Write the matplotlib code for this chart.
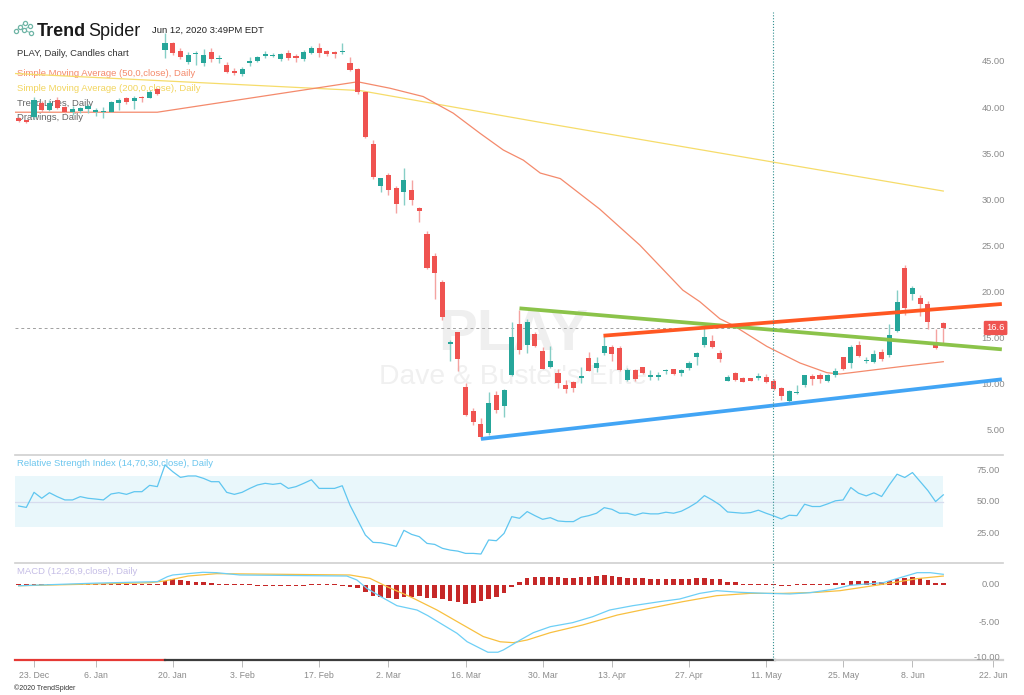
import numpy as np
import matplotlib
matplotlib.use('Agg')
import matplotlib.pyplot as plt
import matplotlib.transforms as mtransforms

plt.rcParams['font.family'] = ['Liberation Sans', 'DejaVu Sans']

### data (x = trading day, 0 = 23 Dec 2019)
day = np.arange(-2, 119)

opens = [39.33, 39.15, 39.52, 40.96, 40.24, 41.32, 40.53, 40.06, 40.13, 40.31,
         40.0, 39.97, 40.06, 40.96, 41.58, 41.2, 41.7, 41.58, 42.48, 46.75,
         47.47, 46.67, 45.48, 46.3, 45.37, 46.56, 45.74, 45.12, 44.5, 44.15,
         45.3, 45.6, 46.1, 46.1, 45.74, 46.45, 46.1, 45.74, 46.39, 46.93,
         46.67, 46.5, 46.5, 45.3, 44.7, 42.22, 36.51, 32.0, 33.2, 31.8,
         31.38, 31.6, 29.6, 26.8, 24.4, 21.6, 14.9, 16.19, 10.16, 7.6,
         6.2, 5.24, 9.3, 8.13, 11.5, 17.0, 14.75, 15.95, 14.1, 12.4,
         11.75, 10.45, 10.7, 11.17, 13.3, 12.3, 13.85, 14.57, 14.4, 10.96,
         12.04, 12.33, 11.25, 11.3, 11.9, 12.1, 11.68, 12.22, 13.49, 14.75,
         15.22, 13.84, 10.88, 11.67, 11.13, 11.13, 11.13, 11.31, 10.88, 10.12,
         8.67, 9.5, 10.41, 11.38, 11.49, 10.88, 11.49, 13.41, 12.83, 14.75,
         13.0, 12.94, 14.02, 13.66, 16.3, 23.06, 20.28, 19.81, 19.16, 14.93,
         17.1]
highs = [39.5, 39.2, 41.7, 41.2, 41.3, 41.7, 40.7, 40.67, 40.6, 40.9,
         40.5, 40.6, 41.2, 41.5, 41.7, 41.75, 41.75, 42.4, 42.6, 48.55,
         47.6, 47.0, 46.5, 46.6, 46.9, 47.0, 46.2, 45.5, 44.8, 44.9,
         46.0, 46.1, 46.6, 46.4, 46.4, 46.7, 46.3, 46.7, 47.2, 47.5,
         46.8, 46.65, 47.5, 46.0, 44.8, 42.3, 37.0, 32.9, 33.4, 32.0,
         34.0, 32.6, 29.7, 27.1, 24.7, 21.8, 15.3, 16.2, 10.6, 7.9,
         6.8, 9.7, 9.8, 9.95, 17.2, 18.6, 17.6, 16.2, 14.5, 14.6,
         12.2, 11.0, 10.8, 12.4, 13.95, 13.5, 15.7, 14.8, 14.6, 12.3,
         12.2, 12.4, 12.0, 11.8, 12.1, 12.2, 12.2, 13.0, 14.0, 16.6,
         15.8, 14.2, 11.5, 11.8, 11.3, 11.2, 11.7, 11.6, 11.1, 10.2,
         9.9, 10.4, 11.5, 11.6, 11.7, 11.6, 12.3, 13.5, 14.8, 15.2,
         13.4, 14.2, 14.3, 17.0, 20.7, 23.4, 21.1, 20.2, 19.5, 16.5,
         17.2]
lows = [38.9, 38.85, 39.3, 40.0, 40.1, 40.3, 39.9, 39.7, 39.9, 39.9,
        39.6, 39.4, 40.0, 40.2, 40.9, 40.4, 41.15, 41.5, 41.9, 45.84,
        46.2, 45.8, 45.2, 45.1, 45.0, 45.5, 45.3, 44.3, 44.0, 43.9,
        45.0, 45.4, 45.9, 46.0, 45.6, 45.7, 45.5, 45.6, 46.3, 46.0,
        46.1, 45.9, 46.3, 44.5, 42.0, 37.2, 32.8, 31.4, 31.0, 29.1,
        29.9, 29.9, 28.1, 23.0, 19.7, 17.5, 13.05, 11.9, 7.1, 6.1,
        4.6, 5.0, 7.4, 6.9, 11.4, 13.8, 13.9, 14.5, 12.1, 12.3,
        10.1, 9.5, 9.7, 10.6, 11.9, 11.8, 13.7, 13.0, 11.9, 10.8,
        10.9, 11.6, 11.0, 11.0, 11.6, 11.5, 11.4, 12.0, 12.6, 14.5,
        14.4, 12.9, 10.8, 10.9, 10.7, 10.85, 11.0, 10.6, 9.9, 8.8,
        8.4, 9.4, 10.2, 10.4, 10.6, 10.7, 11.3, 12.0, 12.3, 13.4,
        12.8, 12.8, 13.0, 13.5, 16.2, 18.0, 19.6, 17.9, 16.5, 14.3,
        15.0]
closes = [39.04, 38.9, 41.32, 40.24, 40.96, 40.42, 40.06, 40.31, 40.42, 40.67,
          40.2, 40.13, 41.14, 41.32, 41.14, 41.5, 41.5, 42.19, 41.97, 47.47,
          46.39, 45.95, 46.2, 46.45, 46.2, 45.74, 45.85, 44.4, 44.3, 44.65,
          45.6, 45.95, 46.3, 46.2, 46.28, 45.84, 45.84, 46.56, 47.0, 46.39,
          46.28, 46.28, 46.6, 44.6, 42.22, 37.34, 33.0, 32.9, 31.6, 30.04,
          32.7, 30.5, 29.3, 23.1, 22.6, 17.75, 15.05, 13.2, 7.16, 6.43,
          4.8, 8.5, 7.7, 9.87, 15.58, 14.2, 17.3, 14.65, 12.2, 13.0,
          10.67, 9.95, 10.05, 11.43, 11.97, 12.84, 14.65, 13.78, 12.0, 12.04,
          11.03, 11.75, 11.5, 11.5, 12.05, 11.57, 12.04, 12.84, 13.85, 15.58,
          14.5, 13.19, 11.24, 10.95, 10.77, 10.88, 11.42, 10.7, 10.01, 9.22,
          9.76, 9.7, 11.49, 11.1, 11.02, 11.49, 11.96, 12.11, 14.57, 13.55,
          13.15, 13.77, 13.19, 15.83, 19.45, 18.72, 20.89, 19.19, 17.28, 14.46,
          16.6]

sma50_day = [-2.5, 16, 42, 46.2, 50.5, 54.4, 57.9, 60.9, 63.5, 65.7, 68.3, 73.4,
             78.6, 84.2, 86.4, 89, 90.7, 95.1, 99.4, 102.9, 104.6, 108.1, 112.4, 118]
sma50_val = [40.0, 40.0, 43.3, 42.6, 41.7, 39.9, 37.7, 35.9, 34.8, 33.4, 32.8, 29.5,
             25.6, 20.7, 19.45, 17.6, 16.9, 14.6, 12.8, 11.75, 11.6, 11.96, 12.4, 12.94]
sma200_day = [-2.5, 42.3, 65.7, 95.5, 118]
sma200_val = [44.2, 42.35, 38.9, 34.65, 31.45]

# drawn trend lines: (start day, start price, end day, end price)
trend_green = [63.0, 18.73, 125.6, 14.28]
trend_orange = [73.9, 15.76, 125.6, 19.2]
trend_blue = [58.0, 4.56, 125.6, 11.03]
last_price = 16.6
cursor_day = 95.9

rsi = [46.6, 45.5, 57.4, 52.7, 57.1, 54.0, 51.4, 51.4, 54.0, 52.7,
       52.1, 51.4, 56.1, 57.1, 55.8, 57.9, 57.9, 62.9, 61.9, 79.0,
       73.7, 69.2, 70.3, 70.3, 68.4, 65.8, 65.8, 57.4, 55.8, 57.4,
       60.5, 63.2, 64.5, 63.7, 64.5, 60.5, 61.9, 64.5, 67.3, 60.5,
       60.5, 60.5, 62.6, 47.3, 35.5, 23.7, 17.9, 17.6, 16.3, 14.7,
       27.4, 24.2, 22.4, 17.1, 16.3, 13.2, 11.8, 11.0, 9.2, 9.2,
       8.7, 19.8, 19.2, 25.0, 38.2, 36.9, 42.2, 39.0, 36.1, 37.4,
       34.8, 34.3, 34.3, 37.7, 39.0, 40.9, 45.3, 44.0, 40.9, 40.9,
       39.3, 41.1, 40.4, 40.4, 41.7, 40.9, 42.5, 45.6, 49.3, 54.8,
       51.4, 47.5, 41.9, 41.4, 40.9, 41.4, 43.3, 40.9, 38.8, 36.4,
       39.3, 39.0, 48.0, 46.2, 46.2, 48.3, 50.7, 51.4, 61.2, 56.7,
       54.6, 57.0, 54.1, 63.3, 71.7, 69.1, 73.0, 65.9, 58.8, 50.1,
       55.4]

macd_day = [-2, 8, 16, 17.3, 18, 21.9, 23.7, 26.7, 40.6, 41.9, 43.2, 45, 47.1,
            49.7, 51.1, 53.1, 54.9, 56.2, 57.9, 58.9, 60.2, 60.9, 63.1, 64.8, 67,
            69.9, 72.5, 74.7, 77.7, 81.2, 83.8, 86.4, 88.6, 91.6, 95.1, 98.1,
            100.7, 103.7, 105.9, 110.2, 112.4, 114.6, 116.3, 118]
macd_val = [-0.1, 0.25, 0.45, 1.11, 1.34, 1.70, 1.65, 1.34, 1.2, 0.67, -0.45, -1.56,
            -2.77, -3.35, -4.1, -5.35, -6.47, -7.59, -8.48, -9.0, -9.0, -8.7, -7.36,
            -6.38, -5.58, -5.04, -4.24, -3.35, -2.77, -2.23, -1.87, -1.12, -0.76,
            -0.98, -1.12, -1.2, -1.03, -0.58, -0.04, 0.31, 0.98, 1.65, 1.65, 1.43]
signal_day = [-2, 15, 17, 20, 23.7, 41, 43.6, 45.8, 48.8, 52.3, 55.3, 58.3, 60.5,
              62.2, 64, 67, 71.2, 75.7, 79.9, 84.2, 88.6, 92.9, 97.2, 101.6,
              104.6, 108.1, 111.5, 114.6, 118]
signal_val = [-0.1, 0.3, 0.55, 1.2, 1.52, 1.34, 0.89, -0.22, -1.56, -3.35, -5.13,
              -6.9, -7.6, -7.72, -7.36, -6.38, -5.35, -4.02, -3.12, -2.23, -1.43,
              -1.12, -1.12, -0.98, -0.76, -0.22, 0.31, 0.85, 1.2]
hist = [0.12, 0.12, 0.12, 0.12, 0.12, 0.12, 0.12, 0.12, 0.12, 0.12,
        0.12, 0.12, 0.12, 0.12, 0.12, 0.12, 0.12, 0.15, 0.2, 0.5,
        0.76, 0.67, 0.58, 0.45, 0.36, 0.27, 0.18, 0.12, 0.12, 0.12,
        0.12, -0.1, -0.1, -0.1, -0.1, -0.1, -0.1, -0.1, 0.1, 0.1,
        0.1, 0.1, -0.15, -0.3, -0.45, -0.89, -1.47, -1.65, -1.78, -1.87,
        -1.56, -1.56, -1.47, -1.78, -1.78, -1.92, -2.1, -2.23, -2.54, -2.45,
        -2.1, -1.92, -1.56, -1.03, -0.22, 0.36, 0.98, 1.12, 1.12, 1.12,
        1.03, 0.89, 0.89, 1.03, 1.12, 1.2, 1.29, 1.2, 1.12, 0.98,
        0.94, 0.89, 0.8, 0.8, 0.76, 0.76, 0.76, 0.85, 0.94, 0.94,
        0.85, 0.8, 0.45, 0.36, 0.12, 0.12, 0.12, 0.1, 0.1, -0.1,
        -0.1, 0.1, 0.1, 0.1, 0.12, 0.2, 0.31, 0.31, 0.54, 0.54,
        0.54, 0.49, 0.45, 0.54, 0.8, 0.98, 1.03, 0.89, 0.67, 0.31,
        0.22]

tick_pos = [0, 8, 18, 27, 37, 46, 56, 66, 75, 85, 95, 105, 114, 124.5]
tick_labels = ['23. Dec', '6. Jan', '20. Jan', '3. Feb', '17. Feb', '2. Mar', '16. Mar',
               '30. Mar', '13. Apr', '27. Apr', '11. May', '25. May', '8. Jun', '22. Jun']
price_ticks = [5, 10, 15, 20, 25, 30, 35, 40, 45]
rsi_ticks = [25, 50, 75]
macd_ticks = [0, -5, -10]

#################################
### figure layout (pixels) ######
#################################
W, H = 1024, 695
fig = plt.figure(figsize=(W / 100, H / 100), dpi=100)


def fpos(x0, y0, x1, y1):
    return [x0 / W, 1 - y1 / H, (x1 - x0) / W, (y1 - y0) / H]


def ftxt(x, y, s, **kw):
    kw.setdefault('zorder', 0)
    return fig.text(x / W, 1 - y / H, s, **kw)


ax_p = fig.add_axes(fpos(15, 12, 1003, 455), zorder=1)
ax_r = fig.add_axes(fpos(15, 455, 1003, 563), zorder=1, sharex=ax_p)
ax_m = fig.add_axes(fpos(15, 563, 1003, 660), zorder=1, sharex=ax_p)

x0, x1 = -2.47, 125.75
for ax in (ax_p, ax_r, ax_m):
    ax.set_facecolor('none')
    for s in ax.spines.values():
        s.set_visible(False)
    ax.set_yticks([])
    ax.tick_params(bottom=False, labelbottom=False)
    ax.axvline(cursor_day, color='#2f8f8f', lw=0.8, ls=(0, (1, 1.6)), zorder=6)
ax_p.set_xlim(x0, x1)
for ax in (ax_r, ax_m):
    ax.spines['top'].set_visible(True)
    ax.spines['top'].set_color('#cfcfcf')
    ax.spines['top'].set_linewidth(1.2)

### candles
O = np.array(opens); Hh = np.array(highs); L = np.array(lows); C = np.array(closes)
up = C >= O
body_col = np.where(up, '#26a69a', '#ef5350')
wick_col = np.where(up, '#86cec6', '#f4a3a1')
ax_p.vlines(day, L, Hh, colors=wick_col, lw=1.0, zorder=3)
ax_p.bar(day, np.maximum(np.abs(C - O), 0.1), bottom=np.minimum(O, C), width=0.66,
         color=body_col, lw=0, zorder=4)

ax_p.plot(sma200_day, sma200_val, color='#f6dc6a', lw=0.9, zorder=2)
ax_p.plot(sma50_day, sma50_val, color='#f48a6c', lw=0.9, zorder=2)
for t, col in ((trend_green, '#8bc34a'), (trend_orange, '#ff5722'), (trend_blue, '#42a5f5')):
    ax_p.plot([t[0], t[2]], [t[1], t[3]], color=col, lw=2.7, solid_capstyle='butt', zorder=5)

ax_p.set_ylim(2.82, 50.87)
tr_p = mtransforms.blended_transform_factory(ax_p.transAxes, ax_p.transData)
for v in price_ticks:
    ax_p.text(1.002, v + 0.45, f'{v:.2f}', transform=tr_p, ha='right', va='center',
              fontsize=6.7, color='#8c8c8c', clip_on=False)
ax_p.axhline(last_price, xmin=0, xmax=(982 - 15) / 988, color='#a0a0a0', lw=0.7,
             ls=(0, (3, 3)), zorder=1)
ax_p.text(0.9925, last_price, f'{last_price}', transform=tr_p, ha='center', va='center',
          fontsize=6.8, color='white', zorder=7, clip_on=False,
          bbox=dict(boxstyle='round,pad=0.28,rounding_size=0.15', fc='#ef5350', ec='none'))

# watermark
ax_p.text(0.504, 0.237, 'PLAY', transform=ax_p.transAxes, ha='center', va='baseline',
          fontsize=42, fontweight='bold', color='#efefef', zorder=0.5)
ax_p.text(0.504, 0.160, "Dave & Buster's Ente", transform=ax_p.transAxes, ha='center',
          va='baseline', fontsize=20.3, color='#f0f0f0', zorder=0.5)

### RSI
ax_r.fill_between([x0, day[-1]], 30, 70, color='#e9f7fb', lw=0, zorder=1)
ax_r.plot([x0, day[-1]], [50, 50], color='#d7dcee', lw=0.9, zorder=1.5)
ax_r.plot(day, rsi, color='#5fc6f0', lw=0.9, zorder=3)
ax_r.set_ylim(1.62, 86.86)
tr_r = mtransforms.blended_transform_factory(ax_r.transAxes, ax_r.transData)
for v in rsi_ticks:
    ax_r.text(0.997, v, f'{v:.2f}', transform=tr_r, ha='right', va='center',
              fontsize=6.7, color='#8c8c8c')

### MACD
ax_m.bar(day, hist, width=0.6, color='#c62828', lw=0, zorder=2)
ax_m.plot(signal_day, signal_val, color='#f8c040', lw=0.9, zorder=3)
ax_m.plot(macd_day, macd_val, color='#6dcff6', lw=0.9, zorder=3)
ax_m.set_ylim(-10.04, 2.945)
tr_m = mtransforms.blended_transform_factory(ax_m.transAxes, ax_m.transData)
for v in macd_ticks:
    ax_m.text(0.997, v + (0.35 if v == -10 else 0), f'{v:.2f}', transform=tr_m,
              ha='right', va='center', fontsize=6.7, color='#8c8c8c')

# bottom axis with navigator colouring
tr_x = ax_m.get_xaxis_transform()
ax_m.plot([x0, 17.06], [0, 0], color='#e53935', lw=1.6, transform=tr_x, clip_on=False)
ax_m.plot([17.06, 96.2], [0, 0], color='#3c3c3c', lw=1.6, transform=tr_x, clip_on=False)
ax_m.plot([96.2, x1], [0, 0], color='#cfcfcf', lw=1.6, transform=tr_x, clip_on=False)
ax_m.set_xticks(tick_pos)
ax_m.set_xticklabels(tick_labels)
ax_m.tick_params(bottom=True, labelbottom=True, length=5, width=0.6, color='#b0b0b0',
                 labelsize=6.3, labelcolor='#8a8a8a', pad=3)

### header / legends
logo_x = [16, 20, 25, 24, 30, 31]
logo_y = [31, 27, 23, 30, 26, 33]
ov = fig.add_axes([0, 0, 1, 1], zorder=0)
ov.set_xlim(0, W); ov.set_ylim(H, 0); ov.axis('off')
for a, b in ((0, 1), (1, 2), (1, 3), (3, 4), (3, 5)):
    ov.plot([logo_x[a], logo_x[b]], [logo_y[a], logo_y[b]], color='#8cc4b8', lw=0.8)
ov.scatter(logo_x, logo_y, s=9, facecolor='white', edgecolor='#6fb5a6', lw=0.9, zorder=3)

ftxt(37, 36, 'Trend', fontsize=13, fontweight='bold', color='#1a1a1a', va='baseline')
ftxt(88, 36, 'Spider', fontsize=13, color='#1a1a1a', va='baseline')
ftxt(152, 33, 'Jun 12, 2020 3:49PM EDT', fontsize=6.8, color='#222222', va='baseline')
ftxt(17, 54, 'PLAY, Daily, Candles chart', fontsize=6.8, color='#333333', va='center')
ftxt(17, 73, 'Simple Moving Average (50,0,close), Daily', fontsize=6.8, color='#f48a6c', va='center')
ftxt(17, 88.5, 'Simple Moving Average (200,0,close), Daily', fontsize=6.8, color='#f2d55e', va='center')
ftxt(17, 103, 'Trend Lines, Daily', fontsize=6.8, color='#666666', va='center')
ftxt(17, 118, 'Drawings, Daily', fontsize=6.8, color='#666666', va='center')
ftxt(17, 463.5, 'Relative Strength Index (14,70,30,close), Daily', fontsize=6.8,
     color='#6cc6ee', va='center')
ftxt(17, 571, 'MACD (12,26,9,close), Daily', fontsize=6.8, color='#c5bde6', va='center')
ftxt(14, 688, '\u00a92020 TrendSpider', fontsize=5, color='#333333', va='center')

fig.savefig('out.png', dpi=100)
